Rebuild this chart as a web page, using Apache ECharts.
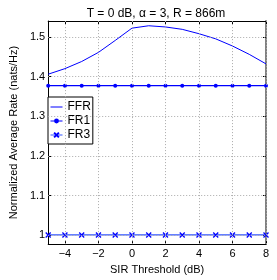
<!DOCTYPE html>
<html><head><meta charset="utf-8">
<script src="https://cdn.jsdelivr.net/npm/echarts@6/dist/echarts.min.js"></script>
<style>html,body{margin:0;padding:0;background:#fff}#c{width:277px;height:280px}</style>
</head><body><div id="c"></div>
<script>
const sirThreshold = [-5,-4,-3,-2,-1,0,1,2,3,4,5,6,7,8];
const ffr = [1.406,1.420,1.438,1.461,1.491,1.522,1.528,1.525,1.519,1.508,1.495,1.477,1.456,1.432];
const fr1 = [1.377,1.377,1.377,1.377,1.377,1.377,1.377,1.377,1.377,1.377,1.377,1.377,1.377,1.377];
const fr3 = [1.001,1.001,1.001,1.001,1.001,1.001,1.001,1.001,1.001,1.001,1.001,1.001,1.001,1.001];
const xTicks = [-4,-2,0,2,4,6,8];
const yTicks = [1,1.1,1.2,1.3,1.4,1.5];

const FONT = 'Liberation Sans, Arial, sans-serif';
const pair = (xs, ys) => xs.map((x,i)=>[x, ys[i]]);
const gridLines = {
  silent: true, symbol: 'none', label: {show:false},
  lineStyle: {color:'#aaaaaa', type:[1,2], width:1},
  data: xTicks.map(v=>({xAxis:v})).concat(yTicks.map(v=>({yAxis:v})))
};
const chart = echarts.init(document.getElementById('c'), null, {renderer:'canvas'});
chart.setOption({
  animation:false,
  backgroundColor:'#fff',
  title:{text:'T = 0 dB, α = 3, R = 866m', left:151, top:3, textAlign:'center',
    textStyle:{fontFamily:FONT, fontSize:12, fontWeight:'normal', color:'#000'}},
  grid:{left:36, right:11, top:21, bottom:29},
  legend:{orient:'vertical', left:48, top:97, itemWidth:12, itemHeight:6, itemGap:2,
    padding:[4,2,3,2], borderColor:'#000', borderWidth:1, backgroundColor:'#fff',
    lineStyle:{width:1},
    textStyle:{fontFamily:FONT, fontSize:12, color:'#000'},
    data:[{name:'FFR', itemStyle:{opacity:0}},'FR1','FR3']},
  xAxis:[{type:'value', min:-5, max:8,
    axisLine:{onZero:false, lineStyle:{color:'#000'}},
    axisTick:{inside:true, length:3, customValues:xTicks, lineStyle:{color:'#000'}},
    axisLabel:{customValues:xTicks, fontFamily:FONT, fontSize:11, color:'#000', margin:4,
      formatter:v=> (v<0? '\u2212'+Math.abs(v): String(v))},
    splitLine:{show:false},
    name:'SIR Threshold (dB)', nameLocation:'middle', nameGap:14,
    nameTextStyle:{fontFamily:FONT, fontSize:11, color:'#000'}},
   {type:'value', min:-5, max:8, position:'top',
    axisLine:{onZero:false, lineStyle:{color:'#000'}},
    axisTick:{inside:true, length:3, customValues:xTicks, lineStyle:{color:'#000'}},
    axisLabel:{show:false}, splitLine:{show:false}}],
  yAxis:[{type:'value', min:0.978, max:1.54,
    axisLine:{show:true, onZero:false, lineStyle:{color:'#000'}},
    axisTick:{show:true, inside:true, length:3, customValues:yTicks, lineStyle:{color:'#000'}},
    axisLabel:{customValues:yTicks, fontFamily:FONT, fontSize:11, color:'#000', margin:3,
      formatter:v=>String(Math.round(v*10)/10)},
    splitLine:{show:false},
    name:'Normalized Average Rate (nats/Hz)', nameLocation:'middle', nameGap:22,
    nameTextStyle:{fontFamily:FONT, fontSize:11, color:'#000'}},
   {type:'value', min:0.978, max:1.54, position:'right',
    axisLine:{show:true, onZero:false, lineStyle:{color:'#808080', width:2}},
    axisTick:{show:true, inside:true, length:3, customValues:yTicks, lineStyle:{color:'#000'}},
    axisLabel:{show:false}, splitLine:{show:false}}],
  series:[
    {name:'FFR', type:'line', data:pair(sirThreshold, ffr), symbol:'none',
      lineStyle:{color:'#0000ff', width:1}, itemStyle:{color:'#0000ff'}, markLine:gridLines, z:3},
    {name:'FR1', type:'line', data:pair(sirThreshold, fr1), symbol:'circle', symbolSize:4,
      lineStyle:{color:'#0000ff', width:1.3}, itemStyle:{color:'#0000ff'}, z:3},
    {name:'FR3', type:'line', data:pair(sirThreshold, fr3),
      symbol:'path://M0,0L10,10M10,0L0,10', symbolSize:5,
      lineStyle:{color:'#3355ff', width:1.3}, itemStyle:{color:'#0000ff', borderColor:'#0000ff', borderWidth:1.3}, z:3}
  ]
});
</script></body></html>
